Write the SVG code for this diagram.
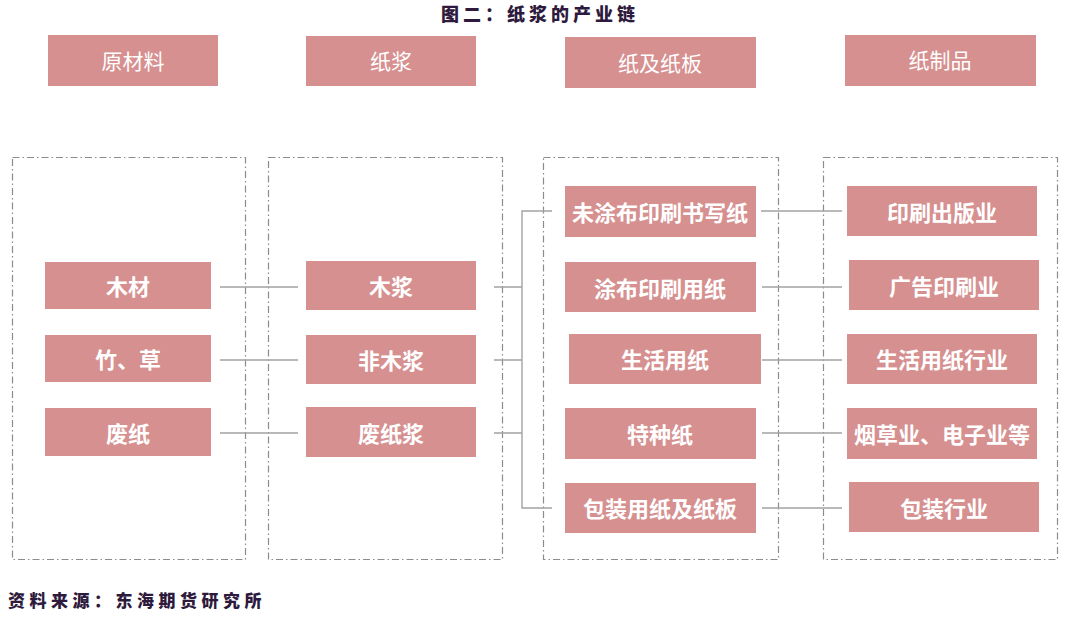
<svg xmlns="http://www.w3.org/2000/svg" width="1080" height="622" viewBox="0 0 1080 622">
<style>
.box{fill:#d69090}
.hd{fill:#ffffff;font-family:"Noto Sans CJK SC","Noto Sans",sans-serif;font-size:21px;font-weight:400;text-anchor:middle;dominant-baseline:central}
.t{fill:#ffffff;font-family:"Noto Sans CJK SC","Noto Sans",sans-serif;font-size:22px;font-weight:700;text-anchor:middle;dominant-baseline:central}
.cont{fill:none;stroke:#8c8c8c;stroke-width:1.2;stroke-dasharray:7 3 1.5 3}
.ln{fill:none;stroke:#a3a3a3;stroke-width:1.4}
.cap{fill:#2e1a3c;font-family:"Noto Sans CJK SC","Noto Sans",sans-serif;font-weight:900}
</style>
<rect width="1080" height="622" fill="#ffffff"/>
<text class="cap" x="540" y="21" font-size="18" text-anchor="middle" letter-spacing="4">图二：纸浆的产业链</text>

<g id="containers">
<rect class="cont" x="12.5" y="157.5" width="233" height="402"/>
<rect class="cont" x="268.5" y="157.5" width="234" height="402"/>
<rect class="cont" x="543.5" y="157.5" width="235" height="402"/>
<rect class="cont" x="823.5" y="157.5" width="234" height="402"/>
</g>

<g id="connectors">
<path class="ln" d="M220 287H298M220 360H298M220 433H298"/>
<path class="ln" d="M494 287H522M494 360H522M494 433H522M552 211H522V508H552"/>
<path class="ln" d="M761 211H842M762 287H842M762 360H842M762 433H842M762 508H842"/>
</g>

<g id="h1"><rect class="box" x="48" y="35" width="170" height="51"/><text class="hd" x="133" y="60">原材料</text></g>
<g id="h2"><rect class="box" x="306" y="36" width="170" height="50"/><text class="hd" x="391" y="60">纸浆</text></g>
<g id="h3"><rect class="box" x="565" y="37" width="191" height="51"/><text class="hd" x="660" y="62">纸及纸板</text></g>
<g id="h4"><rect class="box" x="845" y="35" width="191" height="51"/><text class="hd" x="940" y="59">纸制品</text></g>

<g id="n1"><rect class="box" x="45" y="262" width="166" height="47"/><text class="t" x="128" y="285">木材</text></g>
<g id="n2"><rect class="box" x="45" y="335" width="166" height="47"/><text class="t" x="128" y="358">竹、草</text></g>
<g id="n3"><rect class="box" x="45" y="408" width="166" height="48"/><text class="t" x="128" y="432">废纸</text></g>

<g id="p1"><rect class="box" x="306" y="261" width="170" height="49"/><text class="t" x="391" y="285">木浆</text></g>
<g id="p2"><rect class="box" x="306" y="335" width="170" height="49"/><text class="t" x="391" y="359">非木浆</text></g>
<g id="p3"><rect class="box" x="306" y="407" width="170" height="50"/><text class="t" x="391" y="432">废纸浆</text></g>

<g id="c1"><rect class="box" x="565" y="186" width="191" height="51"/><text class="t" x="660" y="211">未涂布印刷书写纸</text></g>
<g id="c2"><rect class="box" x="565" y="262" width="191" height="50"/><text class="t" x="660" y="287">涂布印刷用纸</text></g>
<g id="c3"><rect class="box" x="569" y="334" width="192" height="50"/><text class="t" x="665" y="358">生活用纸</text></g>
<g id="c4"><rect class="box" x="565" y="408" width="191" height="51"/><text class="t" x="660" y="433">特种纸</text></g>
<g id="c5"><rect class="box" x="565" y="483" width="191" height="50"/><text class="t" x="660" y="507">包装用纸及纸板</text></g>

<g id="d1"><rect class="box" x="847" y="186" width="190" height="50"/><text class="t" x="942" y="211">印刷出版业</text></g>
<g id="d2"><rect class="box" x="849" y="260" width="190" height="50"/><text class="t" x="944" y="285">广告印刷业</text></g>
<g id="d3"><rect class="box" x="847" y="334" width="190" height="50"/><text class="t" x="942" y="358">生活用纸行业</text></g>
<g id="d4"><rect class="box" x="847" y="408" width="190" height="51"/><text class="t" x="942" y="433">烟草业、电子业等</text></g>
<g id="d5"><rect class="box" x="849" y="482" width="190" height="50"/><text class="t" x="944" y="507">包装行业</text></g>

<text class="cap" x="8" y="607" font-size="17" letter-spacing="4.5">资料来源：东海期货研究所</text>
</svg>
